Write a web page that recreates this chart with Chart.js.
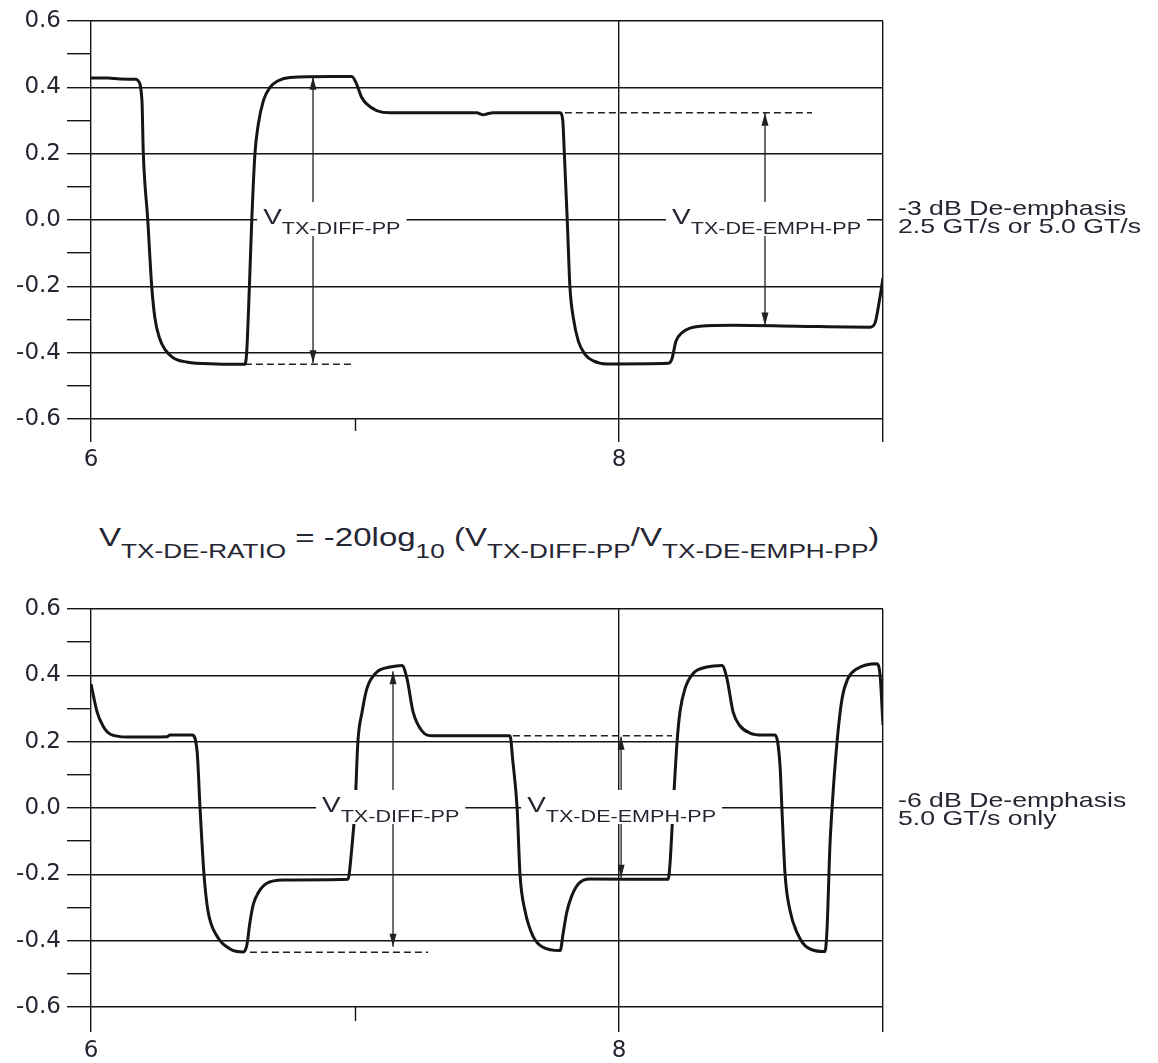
<!DOCTYPE html>
<html>
<head>
<meta charset="utf-8">
<script src="https://cdn.jsdelivr.net/npm/chart.js@4.4.1/dist/chart.umd.min.js"></script>
<style>
html,body{margin:0;padding:0;background:#fff;}
#wrap{position:relative;width:1158px;height:1063px;overflow:hidden;background:#fff;}
canvas{position:absolute;left:0;}
.note{position:absolute;font-family:'Liberation Sans',Arial,sans-serif;color:#262633;font-size:21px;line-height:17.5px;transform:scaleX(1.27);transform-origin:0 0;white-space:nowrap;}
.formula{position:absolute;font-family:'Liberation Sans',Arial,sans-serif;color:#262633;font-size:26px;line-height:30px;transform:scaleX(1.27);transform-origin:0 0;white-space:nowrap;}
.formula .s{font-size:20.6px;vertical-align:-12px;}
</style>
</head>
<body>
<div id="wrap">
  <canvas id="c1" width="1158" height="480" style="top:0px"></canvas>
  <canvas id="c2" width="1158" height="475" style="top:588px"></canvas>
  <div class="note" style="left:898px;top:199px">-3 dB De-emphasis<br>2.5 GT/s or 5.0 GT/s</div>
  <div class="formula" style="left:99px;top:522px">V<span class="s">TX-DE-RATIO</span> = -20log<span class="s">10</span> (V<span class="s">TX-DIFF-PP</span>/V<span class="s">TX-DE-EMPH-PP</span>)</div>
  <div class="note" style="left:898px;top:791px">-6 dB De-emphasis<br>5.0 GT/s only</div>
</div>
<script>
// ---------- data ----------
const xTickValues = [6, 7, 8, 9];
const xTickLabels = ['6', '', '8', ''];
const xShortTicks = [7];
const yTickValues = [-0.6, -0.5, -0.4, -0.3, -0.2, -0.1, 0, 0.1, 0.2, 0.3, 0.4, 0.5, 0.6];
const yTickLabels = ['-0.6', '', '-0.4', '', '-0.2', '', '0.0', '', '0.2', '', '0.4', '', '0.6'];

// -3 dB waveform
const topX = [6.000, 6.064, 6.110, 6.170, 6.178, 6.193, 6.198, 6.215, 6.230, 6.242, 6.259, 6.280, 6.311, 6.362, 6.476, 6.583, 6.590, 6.600, 6.609, 6.621, 6.634, 6.653, 6.678, 6.709, 6.754, 6.917, 6.988, 7.006, 7.025, 7.044, 7.082, 7.133, 7.461, 7.486, 7.505, 7.523, 7.777, 7.787, 7.793, 7.804, 7.814, 7.827, 7.846, 7.871, 7.903, 7.953, 8.187, 8.200, 8.216, 8.238, 8.269, 8.307, 8.432, 8.673, 8.951, 8.970, 8.986, 9.000];
const topY = [0.428, 0.428, 0.425, 0.424, 0.420, 0.360, 0.205, 0.000, -0.200, -0.295, -0.355, -0.390, -0.415, -0.428, -0.434, -0.435, -0.395, -0.200, 0.000, 0.200, 0.290, 0.360, 0.400, 0.420, 0.430, 0.433, 0.433, 0.410, 0.370, 0.350, 0.330, 0.323, 0.323, 0.317, 0.321, 0.323, 0.323, 0.300, 0.200, 0.000, -0.200, -0.295, -0.365, -0.405, -0.425, -0.434, -0.432, -0.420, -0.365, -0.340, -0.326, -0.320, -0.317, -0.320, -0.323, -0.310, -0.245, -0.175];

// -6 dB waveform
const botX = [6.000, 6.023, 6.045, 6.072, 6.136, 6.288, 6.299, 6.383, 6.402, 6.413, 6.428, 6.443, 6.477, 6.527, 6.576, 6.590, 6.602, 6.615, 6.634, 6.666, 6.727, 6.973, 6.988, 7.000, 7.011, 7.027, 7.045, 7.083, 7.133, 7.178, 7.197, 7.220, 7.254, 7.295, 7.587, 7.598, 7.614, 7.625, 7.644, 7.674, 7.712, 7.777, 7.789, 7.802, 7.821, 7.846, 7.890, 8.186, 8.193, 8.205, 8.220, 8.231, 8.250, 8.280, 8.333, 8.390, 8.409, 8.432, 8.458, 8.496, 8.545, 8.591, 8.610, 8.617, 8.629, 8.648, 8.674, 8.712, 8.780, 8.788, 8.799, 8.807, 8.826, 8.845, 8.867, 8.902, 8.977, 8.989, 9.000];
const botY = [0.374, 0.290, 0.248, 0.223, 0.214, 0.215, 0.220, 0.220, 0.170, 0.000, -0.200, -0.310, -0.386, -0.425, -0.434, -0.415, -0.345, -0.290, -0.255, -0.227, -0.217, -0.215, -0.120, 0.000, 0.200, 0.290, 0.360, 0.410, 0.425, 0.430, 0.390, 0.290, 0.232, 0.218, 0.218, 0.140, 0.000, -0.200, -0.310, -0.386, -0.420, -0.430, -0.375, -0.315, -0.265, -0.229, -0.214, -0.215, -0.170, 0.000, 0.200, 0.290, 0.360, 0.405, 0.425, 0.430, 0.390, 0.290, 0.248, 0.226, 0.220, 0.220, 0.127, 0.000, -0.200, -0.310, -0.375, -0.420, -0.433, -0.365, -0.114, 0.000, 0.200, 0.330, 0.390, 0.420, 0.435, 0.400, 0.250];

// measurement annotations (data units)
const topArrowX = [6.841, 8.553];
const topArrowHigh = [0.432, 0.323];
const topArrowLow = [-0.432, -0.318];
const topDashX0 = [6.583, 7.795];
const topDashX1 = [6.992, 8.731];
const topDashY = [-0.435, 0.323];
const topLabelX = [6.652, 8.201];
const topLabelY = [0, 0];
const topLabelSub = ['TX-DIFF-PP', 'TX-DE-EMPH-PP'];

const botArrowX = [7.144, 8.008];
const botArrowHigh = [0.412, 0.215];
const botArrowLow = [-0.418, -0.210];
const botDashX0 = [6.602, 7.598];
const botDashX1 = [7.277, 8.201];
const botDashY = [-0.435, 0.218];
const botLabelX = [6.875, 7.652];
const botLabelY = [0, 0];
const botLabelSub = ['TX-DIFF-PP', 'TX-DE-EMPH-PP'];

// ---------- drawing ----------
const INK = '#151515';
const TEXT = '#262633';
const SX = 1.27;
const FONT = '"Liberation Sans", Arial, sans-serif';

function makeAnnotPlugin(spec) {
  return {
    id: 'annot',
    afterDatasetsDraw(chart) {
      const ctx = chart.ctx;
      const xs = chart.scales.x, ys = chart.scales.y;
      const area = chart.chartArea;
      ctx.save();
      // short x tick marks
      ctx.strokeStyle = INK;
      ctx.lineWidth = 1.4;
      spec.shortTicks.forEach(v => {
        const px = Math.round(xs.getPixelForValue(v)) + 0.5;
        ctx.beginPath();
        ctx.moveTo(px, area.bottom);
        ctx.lineTo(px, area.bottom + spec.shortLen);
        ctx.stroke();
      });
      // arrow heads
      ctx.fillStyle = '#222';
      spec.arrowX.forEach((ax, i) => {
        const px = xs.getPixelForValue(ax);
        const pt = ys.getPixelForValue(spec.arrowHigh[i]);
        const pb = ys.getPixelForValue(spec.arrowLow[i]);
        ctx.beginPath();
        ctx.moveTo(px, pt); ctx.lineTo(px - 3.5, pt + 13); ctx.lineTo(px + 3.5, pt + 13); ctx.closePath(); ctx.fill();
        ctx.beginPath();
        ctx.moveTo(px, pb); ctx.lineTo(px - 3.5, pb - 13); ctx.lineTo(px + 3.5, pb - 13); ctx.closePath(); ctx.fill();
      });
      // labels with white background
      spec.labelX.forEach((lx, i) => {
        const px = xs.getPixelForValue(lx);
        const py = ys.getPixelForValue(spec.labelY[i]);
        ctx.font = '22px ' + FONT;
        const wV = ctx.measureText('V').width;
        ctx.font = '17px ' + FONT;
        const wS = ctx.measureText(spec.labelSub[i]).width;
        ctx.fillStyle = '#fff';
        ctx.fillRect(px - 6, py - 18, (wV + wS) * SX + 12, 34);
        ctx.save();
        ctx.translate(px, 0);
        ctx.scale(SX, 1);
        ctx.fillStyle = TEXT;
        ctx.textBaseline = 'alphabetic';
        ctx.font = '22px ' + FONT;
        ctx.fillText('V', 0, py + 4);
        ctx.font = '17px ' + FONT;
        ctx.fillText(spec.labelSub[i], wV, py + 14);
        ctx.restore();
      });
      ctx.restore();
    }
  };
}

function buildChart(id, wx, wy, spec) {
  const datasets = [{
    data: wx.map((v, i) => ({x: v, y: wy[i]})),
    borderColor: INK, borderWidth: 3, pointRadius: 0,
    cubicInterpolationMode: 'monotone', fill: false
  }];
  spec.arrowX.forEach((ax, i) => {
    datasets.push({
      data: [{x: ax, y: spec.arrowHigh[i]}, {x: ax, y: spec.arrowLow[i]}],
      borderColor: '#222', borderWidth: 1.3, pointRadius: 0, tension: 0, fill: false
    });
  });
  spec.dashX0.forEach((d0, i) => {
    datasets.push({
      data: [{x: d0, y: spec.dashY[i]}, {x: spec.dashX1[i], y: spec.dashY[i]}],
      borderColor: '#222', borderWidth: 1.5, borderDash: [7, 4], pointRadius: 0, tension: 0, fill: false
    });
  });
  return new Chart(document.getElementById(id), {
    type: 'line',
    data: {datasets},
    plugins: [makeAnnotPlugin(spec)],
    options: {
      responsive: false,
      animation: false,
      events: [],
      layout: {padding: {left: 0, right: 275, top: 21, bottom: 0}},
      plugins: {legend: {display: false}, tooltip: {enabled: false}},
      scales: {
        x: {
          type: 'linear', min: 6, max: 9,
          afterBuildTicks: axis => { axis.ticks = xTickValues.map(v => ({value: v})); },
          afterFit: s => { s.height = spec.xAxisHeight; },
          border: {display: false},
          grid: {
            color: c => xShortTicks.includes(xTickValues[c.index]) ? 'rgba(0,0,0,0)' : INK,
            tickColor: c => xShortTicks.includes(xTickValues[c.index]) ? 'rgba(0,0,0,0)' : INK,
            lineWidth: 1.4, tickLength: spec.xTickLen, drawTicks: true
          },
          ticks: {
            autoSkip: false, maxRotation: 0,
            callback: (v, i) => xTickLabels[i],
            color: TEXT, padding: spec.xPad,
            font: {family: 'DejaVu Sans', size: 23}
          }
        },
        y: {
          type: 'linear', min: -0.6, max: 0.6,
          afterBuildTicks: axis => { axis.ticks = yTickValues.map(v => ({value: v})); },
          afterFit: s => { s.width = 91; },
          border: {display: false},
          grid: {
            color: c => yTickLabels[c.index] !== '' ? INK : 'rgba(0,0,0,0)',
            tickColor: INK,
            lineWidth: 1.4, tickLength: 24, drawTicks: true
          },
          ticks: {
            autoSkip: false,
            callback: (v, i) => yTickLabels[i],
            color: TEXT, padding: 6,
            font: {family: 'DejaVu Sans', size: 23}
          }
        }
      }
    }
  });
}

buildChart('c1', topX, topY, {
  arrowX: topArrowX, arrowHigh: topArrowHigh, arrowLow: topArrowLow,
  dashX0: topDashX0, dashX1: topDashX1, dashY: topDashY,
  labelX: topLabelX, labelY: topLabelY, labelSub: topLabelSub,
  shortTicks: xShortTicks, shortLen: 12, xTickLen: 23, xPad: 4, xAxisHeight: 61
});
buildChart('c2', botX, botY, {
  arrowX: botArrowX, arrowHigh: botArrowHigh, arrowLow: botArrowLow,
  dashX0: botDashX0, dashX1: botDashX1, dashY: botDashY,
  labelX: botLabelX, labelY: botLabelY, labelSub: botLabelSub,
  shortTicks: xShortTicks, shortLen: 14, xTickLen: 25, xPad: 5, xAxisHeight: 56
});
</script>
</body>
</html>
